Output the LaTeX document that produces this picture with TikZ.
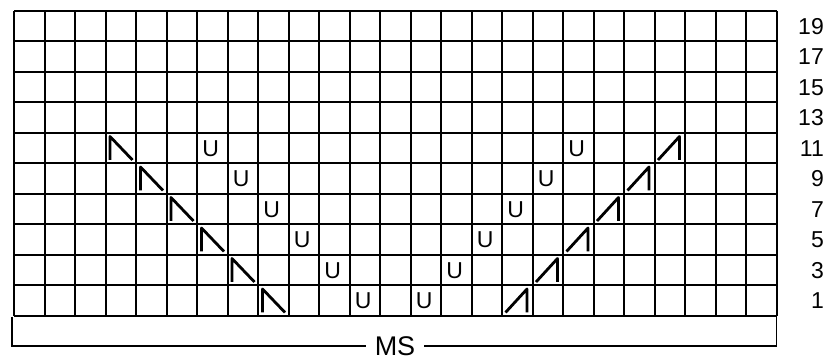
\documentclass[tikz,border=0pt]{standalone}
\usepackage{fontspec}
\setmainfont{Liberation Sans}
\begin{document}
\begin{tikzpicture}[x=1pt,y=1pt,
  gridline/.style={line width=2pt},
  brk/.style={line width=1.6pt},
  sym/.style={line width=2.8pt, line cap=butt, line join=round},
  yo/.style={font=\fontsize{23}{23}\selectfont, inner sep=0pt},
  rowlab/.style={font=\fontsize{23}{23}\selectfont, anchor=east, inner sep=0pt},
  mslab/.style={font=\fontsize{27}{27}\selectfont, inner ysep=0pt, inner xsep=9pt},
]
\useasboundingbox (0,0) rectangle (829,361);
\def\cw{30.5}
% grid
\foreach \i in {0,...,25} \draw[gridline] (14+\i*\cw,45) -- (14+\i*\cw,350);
\foreach \j in {0,...,10} \draw[gridline] (14,45+\j*\cw) -- (776.5,45+\j*\cw);
% left decreases (col,row)
\foreach \c/\r in {9/1,8/2,7/3,6/4,5/5,4/6}
  \draw[sym] ({14+(\c-1)*\cw+4.5},{45+(\r-1)*\cw+3.5}) coordinate (ld\r)
     -- ++(0,23.5) -- ++(22.5,-23.5);
% right decreases
\foreach \c/\r in {17/1,18/2,19/3,20/4,21/5,22/6}
  \draw[sym] ({14+(\c-1)*\cw+3.5},{45+(\r-1)*\cw+3.5}) coordinate (rd\r)
     -- ++(21.5,23.5) -- ++(0,-23.5);
% yarn overs
\foreach \c/\r/\n in {12/1/a,11/2/b,10/3/c,9/4/d,8/5/e,7/6/f,14/1/g,15/2/h,16/3/i,17/4/j,18/5/k,19/6/l}
  \node[yo] (u\n) at ({14+(\c-0.55)*\cw},{45+(\r-0.5)*\cw}) {U};
% row labels
\foreach \r/\t in {1/1,2/3,3/5,4/7,5/9,6/11,7/13,8/15,9/17,10/19}
  \node[rowlab] (lab\t) at (824,{45+(\r-0.5)*\cw}) {\t};
% MS bracket
\node[mslab] (ms) at (395,15) {MS};
\coordinate (bl) at (12,44);
\coordinate (bb) at (12,15);
\coordinate (rb) at (776.5,15);
\coordinate (rt) at (776.5,44);
\draw[brk] (bl) -- (bb) -- (ms.west);
\draw[brk] (ms.east) -- (rb) -- (rt);
\end{tikzpicture}
\end{document}
